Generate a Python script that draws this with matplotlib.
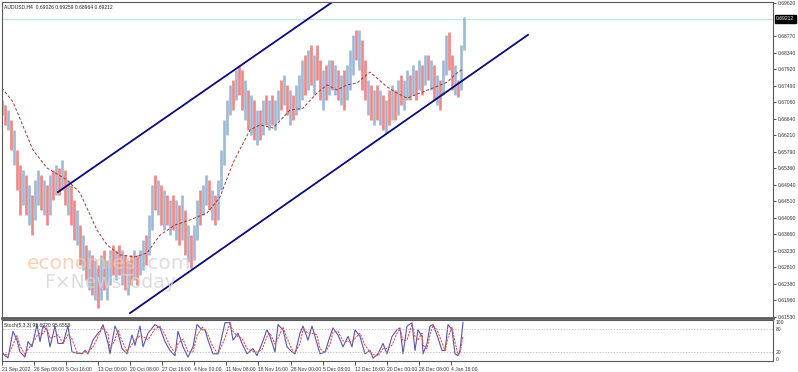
import matplotlib.pyplot as plt
import matplotlib.transforms as mtransforms
import pandas as pd

# ---- data (x = bar position on the H4 chart) ----
bar_x = list(range(2, 467, 3))
highs = [.6712, .6699, .6686, .6661, .6635, .6583, .6545, .6532, .6519, .6493,
         .6467, .6506, .6532, .6519, .6506, .6493, .6519, .6532, .6545, .6537,
         .6558, .6532, .6506, .6493, .6455, .6429, .6390, .6364, .6339, .6326,
         .6313, .6300, .6287, .6313, .6326, .6300, .6326, .6339, .6326, .6339,
         .6326, .6313, .6300, .6313, .6326, .6313, .6326, .6352, .6364, .6416,
         .6493, .6519, .6506, .6493, .6480, .6467, .6455, .6467, .6455, .6442,
         .6467, .6429, .6390, .6364, .6390, .6455, .6480, .6493, .6519, .6506,
         .6480, .6467, .6506, .6583, .6661, .6712, .6751, .6764, .6789, .6802,
         .6789, .6764, .6738, .6725, .6712, .6686, .6686, .6712, .6725, .6712,
         .6725, .6712, .6738, .6764, .6777, .6751, .6738, .6725, .6751, .6777,
         .6815, .6828, .6841, .6854, .6828, .6854, .6815, .6789, .6802, .6815,
         .6815, .6802, .6789, .6777, .6789, .6802, .6841, .6880, .6892, .6892,
         .6867, .6815, .6764, .6751, .6738, .6751, .6738, .6725, .6712, .6738,
         .6751, .6738, .6764, .6777, .6764, .6789, .6777, .6802, .6789, .6815,
         .6802, .6828, .6828, .6815, .6802, .6777, .6764, .6815, .6880, .6887,
         .6828, .6802, .6764, .6854, .6926]
lows = [.6673, .6648, .6635, .6583, .6545, .6480, .6416, .6442, .6416, .6390,
        .6364, .6403, .6442, .6429, .6416, .6390, .6416, .6455, .6467, .6467,
        .6480, .6442, .6416, .6390, .6352, .6339, .6287, .6274, .6248, .6223,
        .6210, .6197, .6176, .6197, .6223, .6197, .6236, .6261, .6248, .6261,
        .6236, .6223, .6210, .6236, .6248, .6236, .6261, .6274, .6287, .6313,
        .6377, .6429, .6416, .6390, .6377, .6390, .6364, .6377, .6352, .6339,
        .6352, .6313, .6295, .6279, .6300, .6352, .6390, .6416, .6442, .6429,
        .6403, .6390, .6403, .6480, .6545, .6622, .6673, .6686, .6712, .6725,
        .6686, .6661, .6635, .6622, .6609, .6596, .6609, .6622, .6648, .6635,
        .6648, .6635, .6661, .6686, .6699, .6673, .6648, .6661, .6673, .6686,
        .6712, .6725, .6738, .6751, .6725, .6764, .6712, .6686, .6712, .6725,
        .6738, .6725, .6712, .6699, .6686, .6712, .6738, .6777, .6815, .6789,
        .6738, .6712, .6673, .6661, .6648, .6661, .6648, .6635, .6627, .6648,
        .6661, .6661, .6673, .6699, .6686, .6712, .6712, .6725, .6712, .6738,
        .6725, .6751, .6764, .6738, .6712, .6699, .6686, .6725, .6777, .6789,
        .6738, .6725, .6720, .6738, .6841]
closes = [.6690, .6660, .6675, .6600, .6610, .6500, .6440, .6510, .6450, .6470,
          .6380, .6490, .6500, .6450, .6480, .6410, .6500, .6470, .6530, .6480,
          .6540, .6460, .6490, .6410, .6370, .6400, .6300, .6340, .6260, .6300,
          .6230, .6270, .6200, .6290, .6240, .6280, .6310, .6280, .6310, .6270,
          .6300, .6240, .6280, .6250, .6310, .6260, .6310, .6340, .6300, .6400,
          .6480, .6450, .6490, .6410, .6460, .6400, .6440, .6390, .6420, .6350,
          .6450, .6330, .6370, .6290, .6380, .6440, .6410, .6480, .6500, .6440,
          .6460, .6400, .6490, .6570, .6650, .6700, .6740, .6700, .6780, .6740,
          .6700, .6740, .6650, .6700, .6620, .6670, .6630, .6700, .6670, .6700,
          .6660, .6700, .6730, .6700, .6770, .6690, .6720, .6670, .6740, .6770,
          .6800, .6750, .6830, .6770, .6810, .6780, .6730, .6770, .6730, .6800,
          .6760, .6790, .6730, .6760, .6710, .6790, .6830, .6860, .6830, .6880,
          .6750, .6730, .6750, .6680, .6720, .6690, .6710, .6650, .6700, .6670,
          .6740, .6680, .6750, .6720, .6750, .6780, .6730, .6790, .6740, .6800,
          .6750, .6820, .6780, .6800, .6730, .6760, .6700, .6800, .6870, .6800,
          .6750, .6790, .6730, .6850, .6921]

ma_x = [2, 13, 33, 47, 67, 80, 97, 107, 120, 135, 147, 160, 175, 190, 207, 220,
        233, 250, 260, 273, 290, 303, 317, 327, 337, 347, 357, 370, 387, 397,
        407, 420, 433, 447, 457, 463]
ma_y = [.6743, .6707, .6583, .6537, .6506, .6473, .6377, .6339, .6313, .6308,
        .6318, .6364, .6390, .6403, .6421, .6462, .6550, .6635, .6648, .6640,
        .6686, .6691, .6730, .6751, .6738, .6751, .6756, .6784, .6746, .6730,
        .6717, .6730, .6743, .6758, .6782, .6792]

upper_x = [58, 345]
upper_y = [.6475, .6987]
lower_x = [130, 528]
lower_y = [.6163, .6880]

last_price = 0.69212
price_ticks = [0.69620, 0.68770, 0.68340, 0.67920, 0.67490, 0.67060, 0.66640,
               0.66210, 0.65790, 0.65360, 0.64940, 0.64510, 0.64090, 0.63660,
               0.63230, 0.62810, 0.62380, 0.61960, 0.61530]

stoch_x = [2, 8, 13, 17, 20, 25, 28, 32, 37, 40, 43, 47, 50, 55, 58, 63, 68, 72,
           77, 82, 85, 88, 93, 98, 100, 103, 108, 110, 115, 118, 122, 127, 132,
           135, 140, 143, 148, 155, 160, 165, 170, 175, 178, 183, 188, 193, 197,
           202, 205, 208, 213, 218, 225, 230, 233, 238, 242, 247, 253, 257, 262,
           267, 270, 275, 278, 283, 287, 292, 295, 300, 303, 308, 312, 317, 320,
           325, 330, 333, 338, 343, 348, 352, 355, 360, 365, 370, 373, 378, 383,
           387, 392, 397, 400, 403, 407, 412, 415, 418, 422, 423, 427, 430, 433,
           437, 442, 445, 448, 452, 455, 458, 460, 463]
stoch_k = [16, 3, 75, 51, 19, 5, 47, 33, 93, 47, 89, 79, 33, 89, 42, 42, 89, 19,
           16, 14, 23, 14, 51, 70, 75, 93, 42, 14, 89, 70, 28, 14, 65, 37, 89,
           33, 70, 93, 84, 47, 23, 9, 75, 33, 5, 33, 93, 79, 79, 51, 14, 14, 98,
           98, 51, 70, 42, 14, 28, 9, 42, 79, 61, 19, 93, 79, 33, 19, 14, 70, 89,
           51, 89, 42, 14, 19, 61, 84, 65, 33, 61, 33, 79, 61, 14, 23, 2, 14, 42,
           14, 61, 79, 84, 14, 89, 98, 23, 79, 61, 14, 42, 89, 93, 65, 23, 23, 93,
           79, 14, 9, 23, 99]

date_pos = [2, 34, 66, 98, 130, 162, 194, 226, 258, 291, 323, 355, 387, 419, 451]
date_labels = ['21 Sep 2022', '28 Sep 08:00', '5 Oct 16:00', '13 Oct 00:00',
               '20 Oct 08:00', '27 Oct 16:00', '4 Nov 00:00', '11 Nov 08:00',
               '18 Nov 16:00', '28 Nov 00:00', '5 Dec 08:00', '12 Dec 16:00',
               '20 Dec 00:00', '28 Dec 08:00', '4 Jan 16:00']

plt.rcParams['font.family'] = ['Liberation Sans', 'DejaVu Sans']
small = 3.6
frame = '#5a5a5a'

W, H = 798, 372
fig = plt.figure(figsize=(W / 100, H / 100), dpi=100)
ax = fig.add_axes([2 / W, (H - 318) / H, 771 / W, 316 / H])
ax2 = fig.add_axes([2 / W, (H - 361) / H, 771 / W, 41 / H])

# ---- main price window ----
opens = [closes[0]] + closes[:-1]
up = [c >= o for o, c in zip(opens, closes)]
ax.vlines([x for x, u in zip(bar_x, up) if u], [l for l, u in zip(lows, up) if u],
          [h for h, u in zip(highs, up) if u], color='#9db9d6', lw=1.9)
ax.vlines([x for x, u in zip(bar_x, up) if not u], [l for l, u in zip(lows, up) if not u],
          [h for h, u in zip(highs, up) if not u], color='#ef8787', lw=1.9)

ax.plot(ma_x, ma_y, color='#9c3a36', lw=0.7, dashes=(3, 2))
ax.plot(upper_x, upper_y, color='#0a0a78', lw=1.3)
ax.plot(lower_x, lower_y, color='#0a0a78', lw=1.3)
ax.axhline(last_price, color='#c5e3ea', lw=0.8, zorder=0)

ax.set_xlim(2, 773)
ax.set_ylim(0.61504, 0.69646)
ax.set_xticks([])
ax.yaxis.tick_right()
ax.set_yticks(price_ticks)
ax.set_yticklabels(['%.5f' % v for v in price_ticks])
ax.tick_params(axis='y', length=2.5, width=0.6, pad=1, labelsize=small,
               colors='#333333')
for s in ax.spines.values():
    s.set_color(frame)
    s.set_linewidth(0.8)
ax.spines['bottom'].set_linewidth(2.0)

tr = mtransforms.blended_transform_factory(ax.transAxes, ax.transData)
ax.text(1.004, last_price, '0.69212', transform=tr, fontsize=small, color='white',
        va='center', ha='left',
        bbox=dict(boxstyle='square,pad=0.3', fc='black', ec='black'))
ax.text(2.5 / 771, 0.993, 'AUDUSD,H4  0.69026 0.69259 0.68964 0.69212',
        transform=ax.transAxes, fontsize=small, color='#222222', va='top')

# watermark
ax.text(25 / 771, 0.155, 'economies', transform=ax.transAxes, fontsize=14.5,
        family='DejaVu Sans', color='#f7c6a4', alpha=0.8, zorder=5)
ax.text(140 / 771, 0.155, '.com', transform=ax.transAxes, fontsize=14.5,
        family='DejaVu Sans', color='#d6d6d6', alpha=0.8, zorder=5)
ax.text(42 / 771, 0.094, 'F\u00d7NewsToday', transform=ax.transAxes, fontsize=13.5,
        family='DejaVu Sans', color='#d4d4d4', alpha=0.8, zorder=5)

# ---- stochastic window ----
stoch_d = pd.Series(stoch_k).rolling(2, min_periods=1).mean()
ax2.plot(stoch_x, stoch_k, color='#5656aa', lw=0.8)
ax2.plot(stoch_x, stoch_d, color='#e05252', lw=0.8, dashes=(2, 1))
for lv in (20, 80):
    ax2.axhline(lv, color='#b0b0b0', lw=0.5, ls=(0, (2, 2)))
ax2.set_xlim(2, 773)
ax2.set_ylim(-5.4, 105.4)
ax2.yaxis.tick_right()
ax2.set_yticks([0, 20, 80, 100])
ax2.set_yticklabels(['0', '20', '80', '100'])
ax2.tick_params(axis='y', length=0, pad=2, labelsize=small, colors='#333333')
ax2.set_xticks(date_pos)
ax2.set_xticklabels(date_labels)
for lbl in ax2.get_xticklabels():
    lbl.set_horizontalalignment('left')
ax2.tick_params(axis='x', length=3, width=0.6, pad=1, labelsize=small,
                colors='#333333')
for s in ax2.spines.values():
    s.set_color(frame)
    s.set_linewidth(0.8)
ax2.text(2.5 / 771, 0.93, 'Stoch(5,3,3) 95.6920 95.6558', transform=ax2.transAxes,
         fontsize=small, color='#222222', va='top')

fig.savefig('out.png', dpi=100)
